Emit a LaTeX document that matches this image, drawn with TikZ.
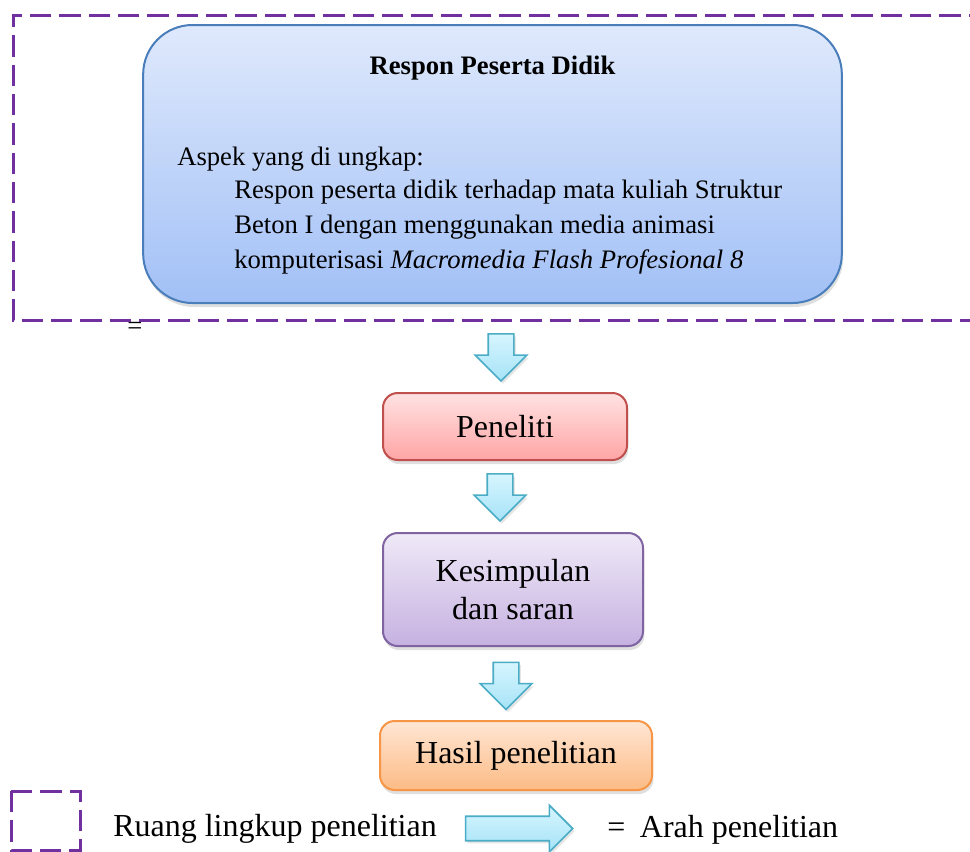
\documentclass[tikz,border=0pt]{standalone}
\usepackage{fontspec}
\setmainfont{Liberation Serif}
\usetikzlibrary{shapes.arrows,shadows}

\definecolor{lingkup}{HTML}{7030A0}
\definecolor{biruGaris}{HTML}{4A7EBB}
\definecolor{biruAtas}{HTML}{DFE9FC}
\definecolor{biruBawah}{HTML}{A2C0F6}
\definecolor{merahGaris}{HTML}{C0504D}
\definecolor{merahAtas}{HTML}{FFE2E2}
\definecolor{merahBawah}{HTML}{FFA5A5}
\definecolor{unguGaris}{HTML}{8064A2}
\definecolor{unguAtas}{HTML}{EFE9F7}
\definecolor{unguBawah}{HTML}{C6B1E1}
\definecolor{oranyeGaris}{HTML}{F79646}
\definecolor{oranyeAtas}{HTML}{FFE6D4}
\definecolor{oranyeBawah}{HTML}{FCBB85}
\definecolor{panahGaris}{HTML}{4BACC6}
\definecolor{panahAtas}{HTML}{D6F5FF}
\definecolor{panahBawah}{HTML}{A6E3F7}

\begin{document}
\begin{tikzpicture}[x=0.75pt, y=-0.75pt,
    kotak/.style={rectangle, rounded corners=11pt, line width=1.5pt, align=center,
        font=\fontsize{24}{28}\selectfont, inner sep=0pt,
        drop shadow={opacity=0.25, shadow xshift=1pt, shadow yshift=-3pt}},
    panah/.style={single arrow, draw=panahGaris, line width=1.2pt,
        top color=panahAtas, bottom color=panahBawah,
        drop shadow={opacity=0.2, shadow xshift=1.5pt, shadow yshift=-2pt}},
    turun/.style={panah, shape border rotate=270, inner sep=9pt,
        single arrow head extend=9.75pt, minimum height=35.25pt},
    garis/.style={draw=lingkup, line width=2.25pt, dash pattern=on 16pt off 6pt},
    teks/.style={anchor=base west, inner sep=0pt, font=\fontsize{20}{24}\selectfont}
]
    \clip (0,0) rectangle (970,851);

    % Tanda sisa
    \node[anchor=base, inner sep=0pt, font=\fontsize{20}{24}\selectfont] (sisa) at (135,334) {=};

    % Ruang lingkup
    \draw[garis] (990,15) -- (13,15) -- (13,320) -- (990,320);

    % Kotak utama
    \node[kotak, rounded corners=37pt, line width=1.5pt, draw=biruGaris,
        top color=biruAtas, bottom color=biruBawah,
        minimum width=524pt, minimum height=208.5pt] (respon) at (492.5,164) {};
    \node[anchor=base, inner sep=0pt, font=\fontsize{20}{24}\selectfont\bfseries] (judul) at (492.5,74) {Respon Peserta Didik};
    \node[teks] (aspek) at (177,165) {Aspek yang di ungkap:};
    \node[teks] (isiA) at (234,198) {Respon peserta didik terhadap mata kuliah Struktur};
    \node[teks] (isiB) at (234,233) {Beton I dengan menggunakan media animasi};
    \node[teks] (isiC) at (234,268) {komputerisasi \textit{Macromedia Flash Profesional 8}};

    % Alur
    \node[kotak, draw=merahGaris, top color=merahAtas, bottom color=merahBawah,
        minimum width=183pt, minimum height=50.25pt] (peneliti) at (505,426.5) {Peneliti};
    \node[kotak, draw=unguGaris, top color=unguAtas, bottom color=unguBawah,
        minimum width=195pt, minimum height=84.75pt] (simpulan) at (513,589.5) {Kesimpulan\\dan saran};
    \node[kotak, draw=oranyeGaris, top color=oranyeAtas, bottom color=oranyeBawah,
        minimum width=204pt, minimum height=51.75pt] (hasil) at (516,755.5) {Hasil penelitian};

    % Panah
    \node[turun] (panahA) at (501,351) {};
    \node[turun] (panahB) at (500,491) {};
    \node[turun] (panahC) at (506,679.5) {};

    % Keterangan
    \draw[garis] (11,791) rectangle (80,850);
    \node[teks, font=\fontsize{24}{28}\selectfont] (ruang) at (113,836) {Ruang lingkup penelitian};
    \node[panah, inner sep=8.6pt, single arrow head extend=8.25pt,
        minimum height=80.25pt] (panahK) at (513,828.5) {};
    \node[teks, font=\fontsize{24}{28}\selectfont] (arah) at (607,837) {=\hspace{11pt}Arah penelitian};
\end{tikzpicture}
\end{document}
